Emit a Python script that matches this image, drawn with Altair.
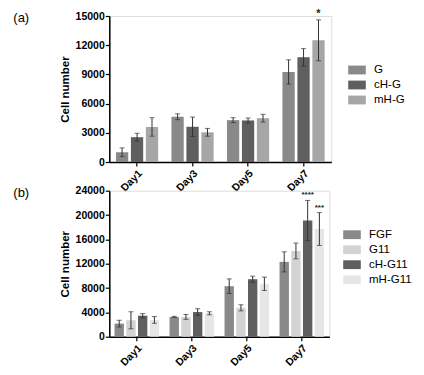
import altair as alt
import pandas as pd

days = ["Day1", "Day3", "Day5", "Day7"]

# Panel (a)
a_groups = ["G", "cH-G", "mH-G"]
a_colors = ["#898989", "#5f5f5f", "#a6a6a6"]
a_G = [1000, 4650, 4300, 9250]
a_G_err = [450, 300, 250, 1250]
a_cHG = [2550, 3620, 4270, 10750]
a_cHG_err = [400, 1000, 250, 900]
a_mHG = [3600, 3050, 4500, 12500]
a_mHG_err = [950, 400, 400, 2100]
a_stars = {("Day7", "mH-G"): "*"}
a_ticks = [0, 3000, 6000, 9000, 12000, 15000]

# Panel (b)
b_groups = ["FGF", "G11", "cH-G11", "mH-G11"]
b_colors = ["#898989", "#d3d3d3", "#5f5f5f", "#e6e6e6"]
b_FGF = [2150, 3250, 8300, 12300]
b_FGF_err = [550, 100, 1200, 1650]
b_G11 = [2700, 3250, 4750, 14100]
b_G11_err = [1400, 400, 500, 1300]
b_cHG11 = [3450, 4050, 9450, 19100]
b_cHG11_err = [350, 550, 500, 3300]
b_mHG11 = [2750, 3850, 8700, 17700]
b_mHG11_err = [550, 250, 1100, 2700]
b_stars = {("Day7", "cH-G11"): "****", ("Day7", "mH-G11"): "***"}
b_ticks = [0, 4000, 8000, 12000, 16000, 20000, 24000]

FONT = "Liberation Sans"


def make_df(groups, vals, errs, stars):
    rows = []
    for g, v, e in zip(groups, vals, errs):
        for d, vv, ee in zip(days, v, e):
            rows.append({"day": d, "group": g, "value": vv, "lo": vv - ee,
                         "hi": vv + ee, "star": stars.get((d, g), "")})
    return pd.DataFrame(rows)


def panel(df, groups, colors, ymax, ticks, pin, pon, offpin, label,
          legx, legy, star_size):
    xs = alt.Scale(domain=days, paddingInner=pin, paddingOuter=pon)
    xo = alt.Scale(domain=groups, paddingInner=offpin, paddingOuter=0)
    ys = alt.Scale(domain=[0, ymax], nice=False)
    yaxis = alt.Axis(values=ticks, format="d", grid=False,
                     labelOverlap=False, labelFlush=False,
                     labelFont=FONT, labelFontSize=10.5, labelFontWeight="bold",
                     labelColor="black", labelPadding=1,
                     tickColor="black", tickSize=4, tickWidth=1.2,
                     domainColor="black", domainWidth=1.5,
                     titleFont=FONT, titleFontSize=11.5, titleFontWeight="bold",
                     titleColor="black", titleX=-41, titleY=73,
                     titleBaseline="alphabetic")
    xaxis = alt.Axis(title=None, labelAngle=-45, labelFont=FONT,
                     labelFontSize=10.5, labelFontWeight="bold",
                     labelColor="black", labelPadding=2,
                     tickColor="black", tickSize=4, tickWidth=1.2,
                     domainColor="black", domainWidth=1.5)
    base = alt.Chart(df)
    X = alt.X("day:N", scale=xs, axis=xaxis, title=None, sort=days)
    XO = alt.XOffset("group:N", scale=xo, sort=groups)

    def Y(field):
        return alt.Y(field, scale=ys, axis=yaxis, title="Cell number")

    bars = base.mark_bar().encode(
        x=X, xOffset=XO, y=Y("value:Q"),
        color=alt.Color("group:N", sort=groups,
                        scale=alt.Scale(domain=groups, range=colors),
                        legend=alt.Legend(title=None, orient="none",
                                          legendX=legx, legendY=legy,
                                          symbolType="M-1,-0.5H1V0.5H-1Z",
                                          symbolSize=310, symbolStrokeWidth=0,
                                          symbolOpacity=1,
                                          labelFont=FONT, labelFontSize=11.5,
                                          labelColor="black", labelOffset=8,
                                          rowPadding=0)),
    )
    err = base.mark_rule(color="#333333", strokeWidth=1).encode(
        x=X, xOffset=XO, y=Y("lo:Q"), y2="hi:Q")
    cap_hi = base.mark_tick(color="#333333", size=5, thickness=1).encode(
        x=X, xOffset=XO, y=Y("hi:Q"))
    cap_lo = base.mark_tick(color="#333333", size=5, thickness=1).encode(
        x=X, xOffset=XO, y=Y("lo:Q"))
    stars = base.transform_filter(alt.datum.star != "").mark_text(
        font=FONT, fontSize=star_size, fontWeight="bold", color="#222222",
        baseline="bottom", dy=-1).encode(
        x=X, xOffset=XO, y=Y("hi:Q"), text="star:N")
    lab = alt.Chart(pd.DataFrame({"t": [label]})).mark_text(
        font=FONT, fontSize=13, align="left", baseline="middle",
        color="black").encode(text="t:N", x=alt.value(-96), y=alt.value(2))
    return alt.layer(bars, err, cap_hi, cap_lo, stars, lab).properties(
        width=0, height=146)


dfa = make_df(a_groups, [a_G, a_cHG, a_mHG], [a_G_err, a_cHG_err, a_mHG_err],
              a_stars)
dfb = make_df(b_groups, [b_FGF, b_G11, b_cHG11, b_mHG11],
              [b_FGF_err, b_G11_err, b_cHG11_err, b_mHG11_err], b_stars)

pa = panel(dfa, a_groups, a_colors, 15000, a_ticks, 0.24, 0.12, 0.18, "(a)",
           238.7, 45, 11).properties(width=222)
pb = panel(dfb, b_groups, b_colors, 24000, b_ticks, 0.19, 0.095, 0.2, "(b)",
           233.7, 35, 8).properties(width=220)

chart = alt.vconcat(pa, pb, spacing=28.7, bounds="flush").resolve_scale(
    color="independent", x="independent", y="independent",
    xOffset="independent").resolve_legend(color="independent").properties(
    padding={"left": 109.3, "top": 16, "right": 314.7, "bottom": 359},
    autosize=alt.AutoSizeParams(type="none"),
    background="white",
).configure_view(stroke=None).configure(font=FONT)

chart.save("out.html", embed_options={"renderer": "svg", "actions": False})
